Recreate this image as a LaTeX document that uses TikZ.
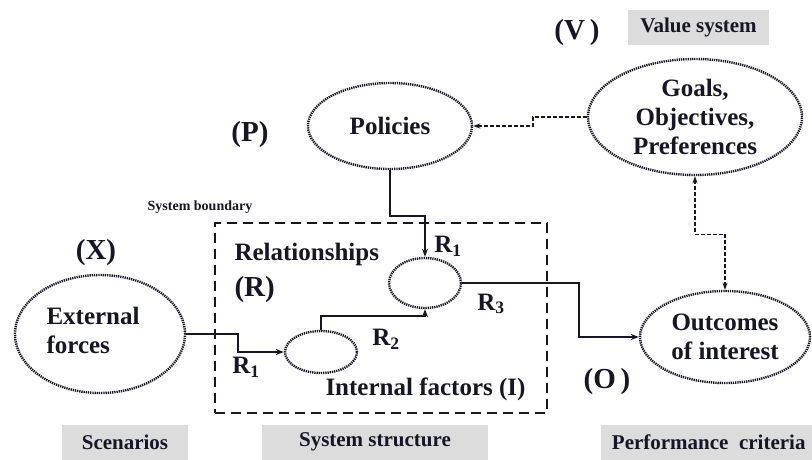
\documentclass[tikz,border=0pt]{standalone}
\usepackage{fontspec}
\setmainfont{Liberation Serif}
\usetikzlibrary{shapes.geometric,arrows.meta,calc}
\definecolor{ink}{RGB}{22,22,38}
\definecolor{tagfill}{RGB}{220,220,220}
\begin{document}
\begin{tikzpicture}[x=1pt,y=-1pt,
  every node/.style={text=ink,font=\bfseries},
  blob/.style={ellipse,draw=ink,dash pattern=on 1.3pt off 0.9pt,line width=2.4pt,inner sep=0pt},
  big/.style={font=\fontsize{25}{29}\selectfont\bfseries},
  huge/.style={font=\fontsize{29}{32}\selectfont\bfseries},
  tag/.style={fill=tagfill,font=\fontsize{21}{24}\selectfont\bfseries,inner sep=0pt,minimum height=35pt},
  flow/.style={draw=ink,line width=1.8pt,-{Stealth[length=8pt,width=6pt]}},
  pref/.style={draw=ink,line width=1.4pt,dash pattern=on 4pt off 2pt,>={Stealth[length=7pt,width=5pt]}}
]
\useasboundingbox (0,0) rectangle (812,459);

% system boundary
\node[draw=ink,line width=2.6pt,dash pattern=on 10pt off 6pt,inner sep=0pt,
  minimum width=332pt,minimum height=190pt] (bound) at (381,318) {};
\node[font=\fontsize{14}{16}\selectfont\bfseries] (blabel) at (200,207) {System boundary};

% ellipses
\node[blob,minimum width=164pt,minimum height=86pt,big] (pol) at (390,126) {Policies};
\node[blob,minimum width=214pt,minimum height=116pt,big,align=center] (goal) at (695,117) {Goals,\\Objectives,\\Preferences};
\node[blob,minimum width=170pt,minimum height=118pt] (ext) at (100,334) {};
\node[blob,minimum width=170pt,minimum height=92pt,big,align=center] (out) at (725,337) {Outcomes\\of interest};
\node[blob,minimum width=72pt,minimum height=42pt] (int) at (321,352) {};
\node[blob,minimum width=72pt,minimum height=50pt] (rel) at (425,283) {};

% texts
\node[big,align=left,anchor=west] (extlabel) at (43,330) {External\\forces};
\node[huge] (vlabel) at (577,33) {(V\,)};
\node[huge] (plabel) at (250,135) {(P)};
\node[huge] (xlabel) at (96,253) {(X)};
\node[huge] (olabel) at (607,382) {(O\,)};
\node[big,anchor=west] (rlabel) at (231,254) {Relationships};
\node[huge,anchor=west] (rsym) at (231,290) {(R)};
\node[big,anchor=east] (ilabel) at (529,389) {Internal factors (I)};
\node[big] (r1a) at (246,367) {R$_{\mathbf 1}$};
\node[big] (r2) at (386,339) {R$_{\mathbf 2}$};
\node[big] (r1b) at (448,246) {R$_{\mathbf 1}$};
\node[big] (r3) at (491,304) {R$_{\mathbf 3}$};

% category tags
\node[tag,minimum width=141pt] (tv) at (698.5,27) {Value system};
\node[tag,minimum width=126pt] (ts) at (125,442) {Scenarios};
\node[tag,minimum width=226pt] (tst) at (375,442) {System structure};
\node[tag,minimum width=215pt,anchor=west] (tp) at (601,442) {Performance\ \ criteria};

% causal links
\draw[flow] (ext.east) -- ++(52,0) |- (int.west);
\draw[flow] (int.north) -- ++(0,-14) -| (rel.south);
\draw[flow] (pol.south) -- ++(0,46) -| (rel.north);
\draw[flow] (rel.east) -- ++(117,0) |- (out.west);

% preference links
\draw[pref,->] (goal.west) -- ++(-54,0) |- (pol.east);
\draw[pref,<->] (goal.south) -- ++(0,58) -| (out.north);
\end{tikzpicture}
\end{document}
